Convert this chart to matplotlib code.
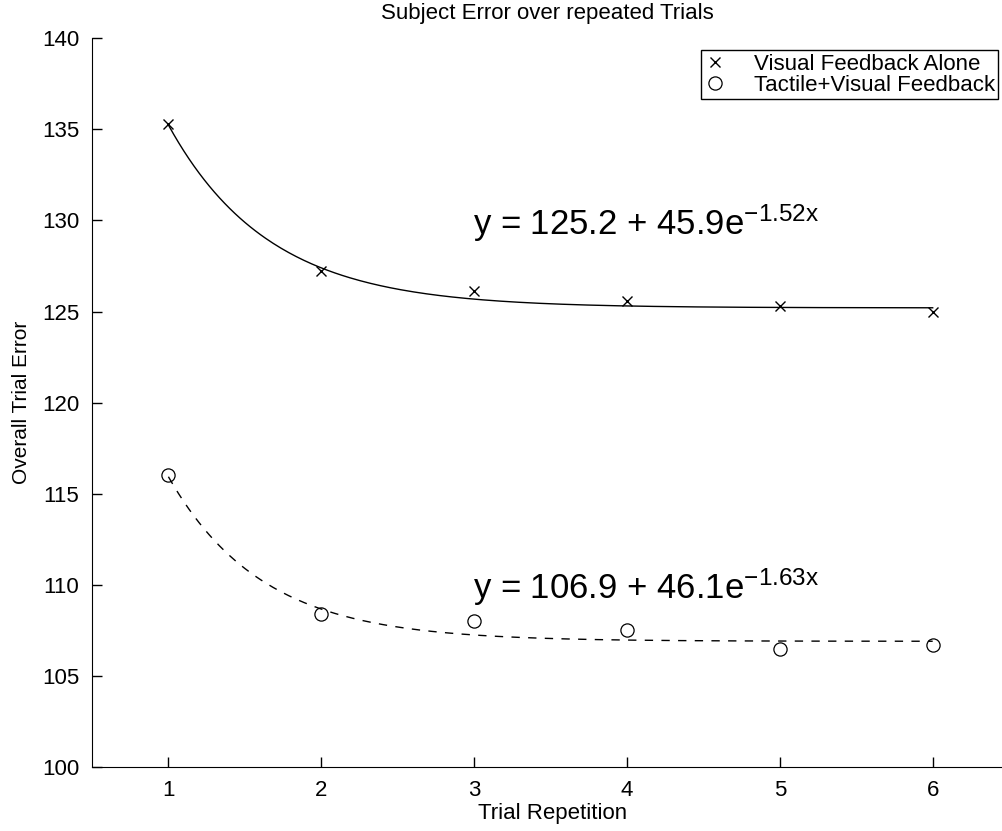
import numpy as np
import matplotlib
matplotlib.use('Agg')
import matplotlib.pyplot as plt

plt.rcParams['font.family'] = ['Liberation Sans', 'DejaVu Sans']
plt.rcParams['mathtext.fontset'] = 'custom'
plt.rcParams['mathtext.rm'] = 'Liberation Sans'
plt.rcParams['mathtext.it'] = 'Liberation Sans'

# trial data
trials = [1, 2, 3, 4, 5, 6]
visual_err = [135.3, 127.2, 126.1, 125.6, 125.3, 125.0]
tactile_err = [116.0, 108.4, 108.0, 107.5, 106.5, 106.7]

# fitted curves y = a + b*exp(c*x)
visual_fit = (125.2, 45.9, -1.52)
tactile_fit = (106.9, 46.1, -1.63)

fig = plt.figure(figsize=(10.03, 8.31), dpi=100)
ax = fig.add_axes([0.0917, 0.077, 0.9083, 0.877])

xs = np.linspace(trials[0], trials[-1], 300)
a, b, c = visual_fit
ax.plot(xs, a + b * np.exp(c * xs), color='black', lw=1.0)
a, b, c = tactile_fit
ax.plot(xs, a + b * np.exp(c * xs), color='black', lw=1.0, dashes=(6, 6))

ax.plot(trials, visual_err, linestyle='none', marker='x', color='black',
        markersize=6.5, markeredgewidth=1.0, label='Visual Feedback Alone')
ax.plot(trials, tactile_err, linestyle='none', marker='o', markerfacecolor='none',
        markeredgecolor='black', markersize=9.5, markeredgewidth=0.9,
        label='Tactile+Visual Feedback')

ax.text(2.99, 129.2, r'y = 125.2 + 45.9e$^{\mathrm{-1.52x}}$', fontsize=25, va='baseline')
ax.text(2.99, 109.25, r'y = 106.9 + 46.1e$^{\mathrm{-1.63x}}$', fontsize=25, va='baseline')

ax.set_xlim(0.5, 6.46)
ax.set_ylim(100, 140)
ax.set_xticks(trials)
ax.set_yticks(np.arange(100, 141, 5))
ax.tick_params(direction='in', length=7, width=1, labelsize=16, pad=9)
ax.spines['top'].set_visible(False)
ax.spines['right'].set_visible(False)

ax.set_title('Subject Error over repeated Trials', fontsize=16, pad=14)
ax.set_xlabel('Trial Repetition', fontsize=16)
ax.xaxis.set_label_coords(0.506, -0.05)
ax.set_ylabel('Overall Trial Error', fontsize=15, labelpad=8)

leg = ax.legend(loc='upper right', bbox_to_anchor=(0.9945, 0.9835), fontsize=16,
                frameon=True, fancybox=False, edgecolor='black', framealpha=1,
                handlelength=0.9, handletextpad=1.3, borderpad=0.15,
                labelspacing=0.0, borderaxespad=0)
leg.get_frame().set_linewidth(1.0)

fig.savefig('out.png', dpi=100)
